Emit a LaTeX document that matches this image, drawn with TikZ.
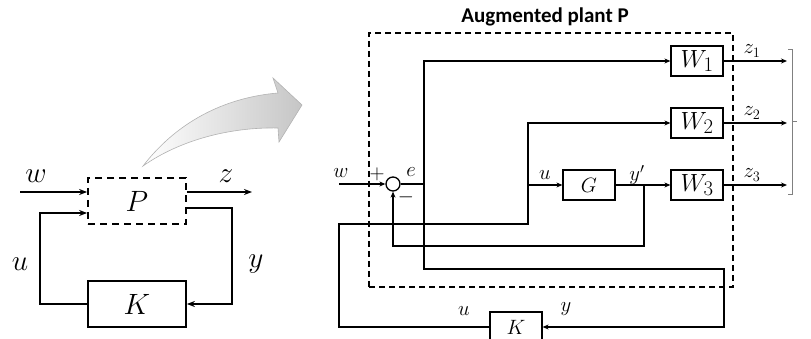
\documentclass[tikz,border=0pt]{standalone}
\usepackage{amsmath}
\usepackage{fontspec}
\newfontfamily\titlefont{Carlito}
\usetikzlibrary{arrows.meta, positioning, calc}
\newcommand{\bigsym}[1]{\scalebox{1.18}{$#1$}}

\begin{document}
\begin{tikzpicture}[
    x=1pt, y=-1pt,
    every node/.style={font=\huge},
    big/.style={font=\Huge},
    block/.style={draw, line width=1.2pt, minimum width=52pt, minimum height=30pt, inner sep=0pt},
    wblock/.style={block, font=\Huge},
    bigblock/.style={draw, line width=1.8pt, minimum width=98pt, minimum height=46pt, inner sep=0pt, big},
    dblock/.style={bigblock, dash pattern=on 7pt off 5pt},
    arrow/.style={-{Stealth[length=8pt,width=6pt]}, line width=1.8pt},
    sarrow/.style={-{Stealth[length=6pt,width=5pt]}, line width=1.5pt},
    line/.style={line width=1.5pt}
]
\useasboundingbox (0,0) rectangle (811,339);

% gray curved arrow
\shade[left color=white, right color=gray!45, draw=gray!60, line width=0.6pt]
    (143,166) .. controls (180,118) and (230,97) .. (278,93)
    -- (273,78) -- (302,105) -- (279,142) -- (278,128)
    .. controls (230,127) and (180,140) .. (143,166) -- cycle;

% left: generalised plant with controller
\node[dblock] (P) at (137,201) {\bigsym{P}};
\node[bigblock] (K) at (137,304) {\bigsym{K}};
\coordinate (win) at (20,192);
\coordinate (zout) at (252,192);
\coordinate (ul) at (40,213);
\coordinate (yr) at (232,208);

\draw[arrow] (win) -- (win -| P.west);
\draw[arrow] (P.east |- zout) -- (zout);
\draw[arrow] (K.west) -| (ul) -- (ul -| P.west);
\draw[arrow] (yr -| P.east) -- (yr) |- (K.east);

\node[big] (lw) at (36,176) {\bigsym{w}};
\node[big] (lz) at (226,176) {\bigsym{z}};
\node[big] (lu) at (20,264) {\bigsym{u}};
\node[big] (ly) at (256,264) {\bigsym{y}};

% right: augmented plant
\node[draw, line width=1.5pt, dash pattern=on 6pt off 4pt, minimum width=364pt, minimum height=254pt] (aug) at (551,160) {};
\node[font=\titlefont\bfseries\fontsize{21}{23}\selectfont] (title) at (545,17) {Augmented plant P};

\node[circle, draw, line width=1.3pt, minimum size=14pt, inner sep=0pt] (sum) at (393,184) {};
\node[wblock] (W1) at (697,61) {$W_1$};
\node[wblock] (W2) at (697,123) {$W_2$};
\node[wblock] (W3) at (697,185) {$W_3$};
\node[block] (G) at (589,185) {$G$};
\node[block] (K2) at (516,327) {$K$};

\coordinate (w2in) at (339,184);
\coordinate (ej) at (424,184);
\coordinate (eb) at (724,269);
\coordinate (uj) at (528,185);
\coordinate (ub) at (339,224);
\coordinate (yj) at (644,185);
\coordinate (yb) at (644,246);
\coordinate (zend) at (787,0);

\draw[sarrow] (w2in) -- (sum.west);
\draw[line] (sum.east) -- (ej);
\draw[sarrow] (ej) |- (W1.west);
\draw[sarrow] (ej) -- (ej |- eb) -- (eb) |- (K2.east);
\draw[sarrow] (K2.west) -| (ub) -- (ub -| uj) |- (W2.west);
\draw[sarrow] (uj) -- (G.west);
\draw[sarrow] (G.east) -- (W3.west);
\draw[sarrow] (yj) -- (yb) -| (sum.south);
\draw[sarrow] (W1.east) -- (W1.east -| zend);
\draw[sarrow] (W2.east) -- (W2.east -| zend);
\draw[sarrow] (W3.east) -- (W3.east -| zend);

% bracket
\draw[gray, line width=0.8pt] (788,49) -- (792,49) -- (792,194) -- (788,194);
\draw[gray, line width=0.8pt] (792,121) -- (797,121);

\node (rw) at (341,173) {$w$};
\node (plus) at (377,174) {$+$};
\node (re) at (411,172) {$e$};
\node (minus) at (406,197) {$-$};
\node (ru) at (545,175) {$u$};
\node (ryp) at (637,175) {$y'$};
\node (z1) at (752,51) {$z_1$};
\node (z2) at (752,113) {$z_2$};
\node (z3) at (752,175) {$z_3$};
\node (ku) at (464,311) {$u$};
\node (ky) at (566,309) {$y$};

\end{tikzpicture}
\end{document}
